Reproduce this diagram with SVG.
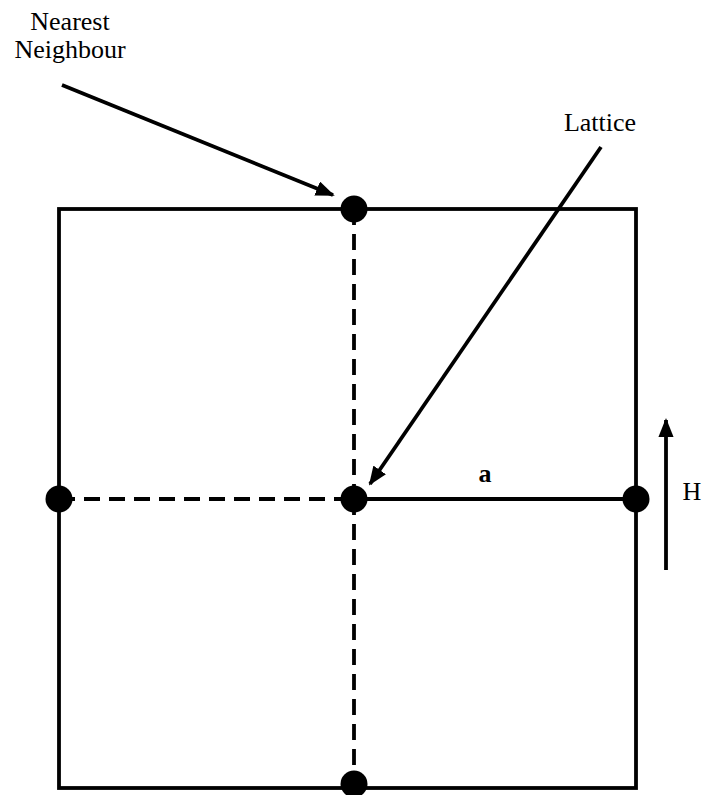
<svg xmlns="http://www.w3.org/2000/svg" width="704" height="795" viewBox="0 0 704 795">
<style>
.ln{stroke:#000;stroke-width:3.8;fill:none}
.dash{stroke:#000;stroke-width:3.8;fill:none;stroke-dasharray:16 9}
.dot{fill:#000}
.t{font-family:"Liberation Serif",serif;font-size:26px;fill:#000}
</style>
<defs>
<marker id="ah" viewBox="0 0 10 10" refX="9" refY="5" markerWidth="5" markerHeight="4" orient="auto" markerUnits="strokeWidth" preserveAspectRatio="none">
<path d="M0,0 L10,5 L0,10 Z" fill="#000"/>
</marker>
</defs>
<rect width="704" height="795" fill="#fff"/>
<g id="lattice-box">
<rect x="59" y="209" width="577" height="579" class="ln"/>
</g>
<g id="connectors">
<line x1="354" y1="209" x2="354" y2="499" class="dash"/>
<line x1="354" y1="499" x2="354" y2="784" class="dash"/>
<line x1="59" y1="499" x2="354" y2="499" class="dash"/>
<line x1="354" y1="499" x2="636" y2="499" class="ln"/>
<line x1="62" y1="85" x2="333" y2="195" class="ln" marker-end="url(#ah)"/>
<line x1="601" y1="147" x2="370" y2="484" class="ln" marker-end="url(#ah)"/>
<line x1="666" y1="570" x2="666" y2="420" class="ln" marker-end="url(#ah)"/>
</g>
<g id="node-top"><circle cx="354" cy="209" r="13.5" class="dot"/></g>
<g id="node-center"><circle cx="354" cy="499" r="13.5" class="dot"/></g>
<g id="node-left"><circle cx="59" cy="499" r="13.5" class="dot"/></g>
<g id="node-right"><circle cx="636" cy="499" r="13.5" class="dot"/></g>
<g id="node-bottom"><circle cx="354" cy="784" r="13.5" class="dot"/></g>
<g id="labels">
<text x="70" y="30" class="t" text-anchor="middle">Nearest</text>
<text x="70" y="58" class="t" text-anchor="middle">Neighbour</text>
<text x="600" y="131" class="t" text-anchor="middle">Lattice</text>
<text x="485" y="482" class="t" text-anchor="middle" font-weight="bold" font-size="29">a</text>
<text x="692" y="500" class="t" text-anchor="middle">H</text>
</g>
</svg>
